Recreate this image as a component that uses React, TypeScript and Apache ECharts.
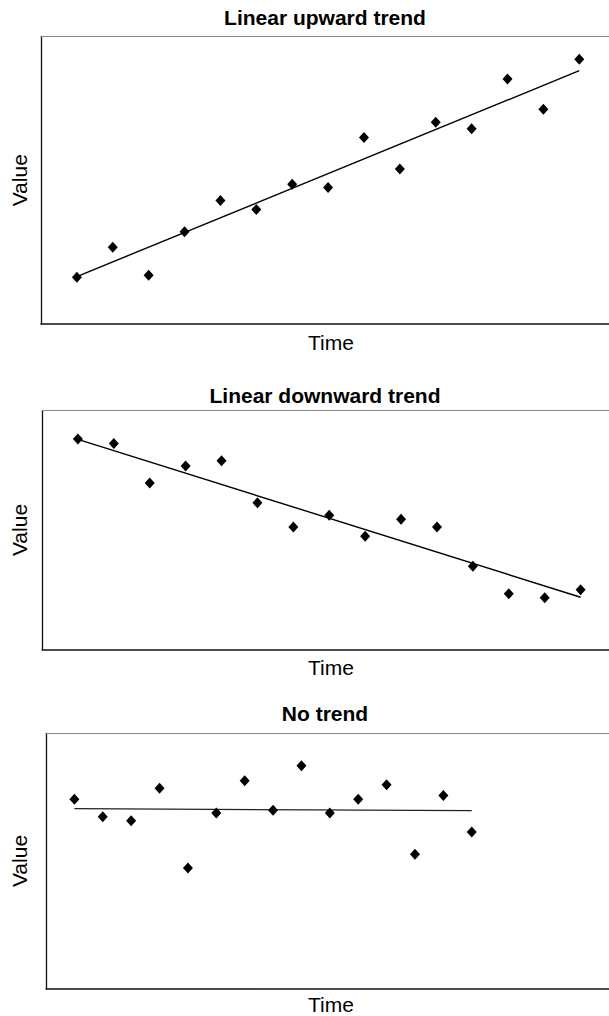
import React, { useEffect, useRef } from "react";
import * as echarts from "echarts";

// Time steps shared by all three panels
const timeSteps = [1, 2, 3, 4, 5, 6, 7, 8, 9, 10, 11, 12, 13, 14, 15];
// x positions of the fitted trend-line ends
const trendEnds = [1, 15];

const upwardValues = [16.3, 26.7, 17.0, 32.1, 43.0, 39.8, 48.6, 47.5, 64.9, 53.9, 70.2, 67.9, 85.2, 74.7, 92.1];
const upwardTrend = [16.5, 88.1];

const downwardValues = [88.1, 86.3, 69.7, 76.8, 79.0, 61.4, 51.3, 56.2, 47.4, 54.5, 51.3, 34.8, 23.3, 21.6, 25.0];
const downwardTrend = [88.0, 21.8];

const flatValues = [74.2, 67.3, 65.8, 78.5, 47.3, 68.8, 81.4, 69.9, 87.3, 68.8, 74.2, 79.9, 52.6, 75.6, 61.4];
const flatTrend = [70.5, 69.7];

const panelTitles = ["Linear upward trend", "Linear downward trend", "No trend"];
const xAxisName = "Time";
const yAxisName = "Value";

const FONT = "'Liberation Sans', Arial, Helvetica, sans-serif";

export default function App() {
  const ref = useRef<HTMLDivElement>(null);

  useEffect(() => {
    document.body.style.margin = "0";
    if (!ref.current) return;
    const chart = echarts.init(ref.current, undefined, { renderer: "svg" });

    // Plot frames run past the visible right edge, so no right border shows
    const grids = [
      { left: 41, top: 36.5, width: 600, height: 287.5 },
      { left: 42, top: 410.7, width: 600, height: 238.6 },
      { left: 46, top: 733.3, width: 600, height: 255.4 },
    ];
    const xMax = [16.72, 16.71, 21.14];
    const panels = [
      { values: upwardValues, trend: upwardTrend },
      { values: downwardValues, trend: downwardTrend },
      { values: flatValues, trend: flatTrend },
    ];
    const titleY = [17, 395.5, 713];
    const nameY = [342.5, 667, 1004.5];

    const xAxes: any[] = [];
    const yAxes: any[] = [];
    const series: any[] = [];
    const graphic: any[] = [];

    grids.forEach((g, i) => {
      // bottom axis (dark frame side)
      xAxes.push({
        type: "value",
        gridIndex: i,
        min: 0,
        max: xMax[i],
        position: "bottom",
        axisLine: { show: true, onZero: false, lineStyle: { color: "#111", width: 1.5 } },
        axisTick: { show: false },
        axisLabel: { show: false },
        splitLine: { show: false },
      });
      // top edge of the frame (lighter)
      xAxes.push({
        type: "value",
        gridIndex: i,
        min: 0,
        max: xMax[i],
        position: "top",
        axisLine: { show: true, onZero: false, lineStyle: { color: "#888", width: 1.2 } },
        axisTick: { show: false },
        axisLabel: { show: false },
        splitLine: { show: false },
      });
      yAxes.push({
        type: "value",
        gridIndex: i,
        min: 0,
        max: 100,
        axisLine: { show: true, onZero: false, lineStyle: { color: "#111", width: 1.3 } },
        axisTick: { show: false },
        axisLabel: { show: false },
        splitLine: { show: false },
      });

      const p = panels[i];
      series.push({
        type: "scatter",
        xAxisIndex: i * 2,
        yAxisIndex: i,
        symbol: "diamond",
        symbolSize: [10, 11],
        itemStyle: { color: "#000", opacity: 1 },
        data: timeSteps.map((t, k) => [t, p.values[k]]),
        z: 3,
      });
      series.push({
        type: "line",
        xAxisIndex: i * 2,
        yAxisIndex: i,
        showSymbol: false,
        symbol: "none",
        lineStyle: { color: i === 2 ? "#222" : "#000", width: i === 2 ? 1.2 : 1.4 },
        data: trendEnds.map((t, k) => [t, p.trend[k]]),
        z: 2,
      });

      graphic.push({
        type: "text",
        x: 325,
        y: titleY[i],
        style: {
          text: panelTitles[i],
          font: `bold 21px ${FONT}`,
          fill: "#000",
          textAlign: "center",
          textVerticalAlign: "middle",
        },
      });
      graphic.push({
        type: "text",
        x: 331,
        y: nameY[i],
        style: {
          text: xAxisName,
          font: `21px ${FONT}`,
          fill: "#000",
          textAlign: "center",
          textVerticalAlign: "middle",
        },
      });
      graphic.push({
        type: "text",
        x: 19.5,
        y: g.top + g.height / 2,
        rotation: Math.PI / 2,
        style: {
          text: yAxisName,
          font: `21px ${FONT}`,
          fill: "#000",
          textAlign: "center",
          textVerticalAlign: "middle",
        },
      });
    });

    chart.setOption({
      animation: false,
      backgroundColor: "#fff",
      grid: grids,
      xAxis: xAxes,
      yAxis: yAxes,
      series,
      graphic,
    });

    return () => chart.dispose();
  }, []);

  return (
    <div style={{ width: 609, height: 1016, overflow: "hidden" }}>
      <div ref={ref} style={{ width: 660, height: 1016 }} />
    </div>
  );
}
